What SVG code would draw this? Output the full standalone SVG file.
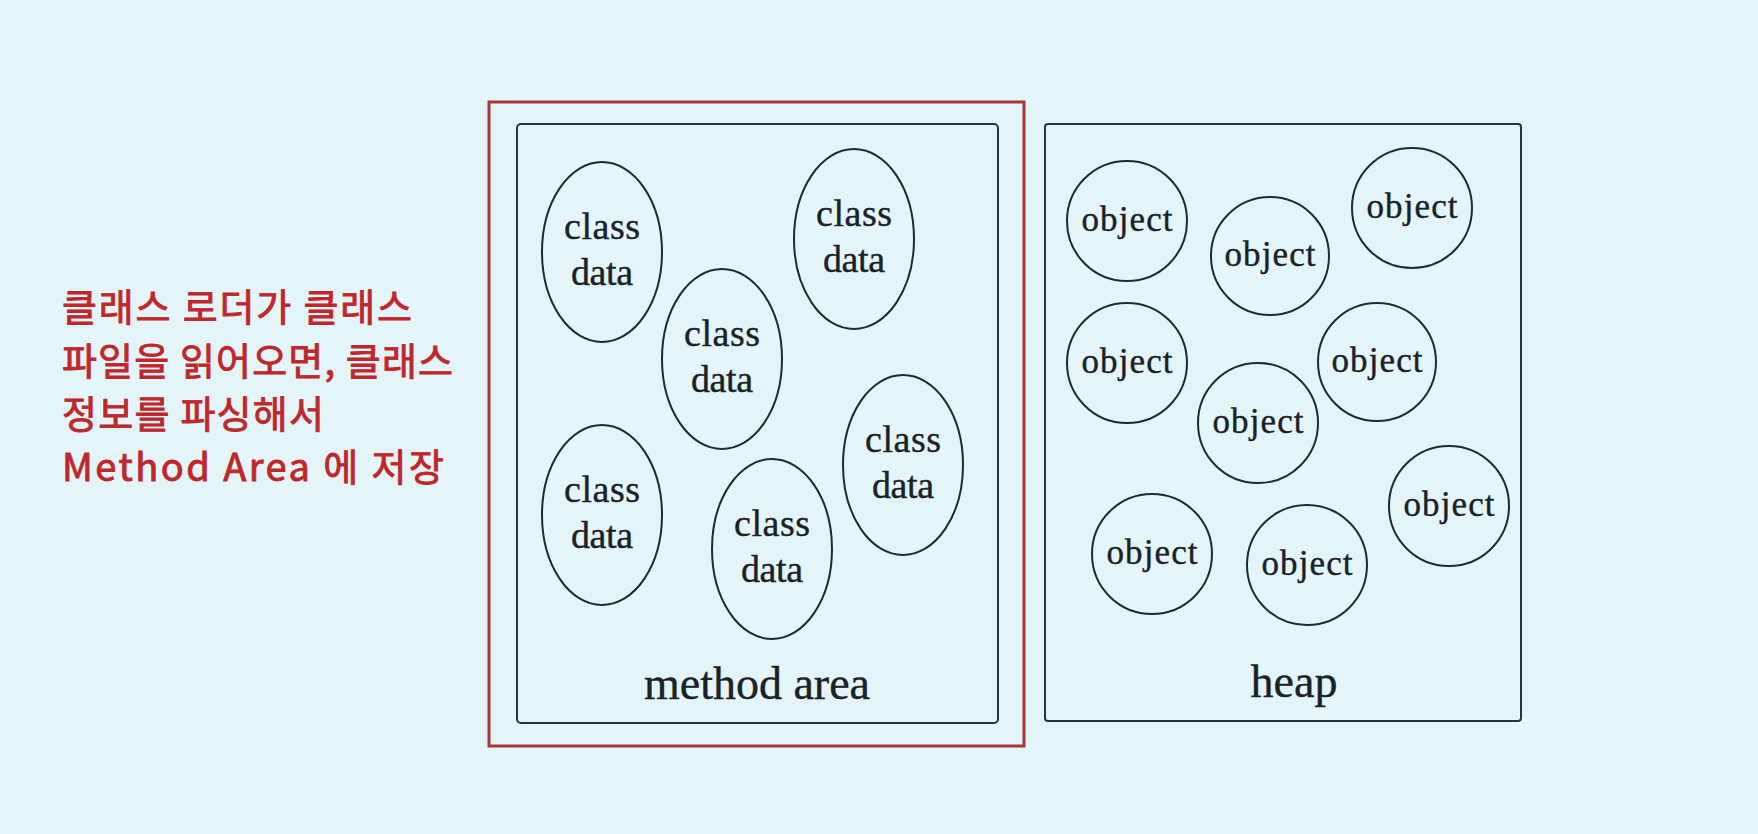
<svg xmlns="http://www.w3.org/2000/svg" width="1758" height="834" viewBox="0 0 1758 834">
<style>
.bg{fill:#e4f5fa}
.frame{fill:none;stroke:#a8343a;stroke-width:3}
.box{fill:none;stroke:#26343e;stroke-width:2}
.node{fill:none;stroke:#1f2b33;stroke-width:2}
.t{font-family:"Liberation Serif","Times New Roman",serif;fill:#1a2228;stroke:#1a2228;stroke-width:0.4;text-anchor:middle}
.cd{font-size:38px}
.ob{font-size:35px}
.lbl{font-size:46px}
.ko{font-family:"Noto Sans CJK KR","Noto Sans",sans-serif;font-size:38px;fill:#bf272b;stroke:#bf272b;stroke-width:0.9}
</style>
<rect class="bg" x="0" y="0" width="1758" height="834"/>

<g id="note">
<text class="ko" x="62" y="321" textLength="350" lengthAdjust="spacing">클래스 로더가 클래스</text>
<text class="ko" x="62" y="375" textLength="391" lengthAdjust="spacing">파일을 읽어오면, 클래스</text>
<text class="ko" x="62" y="428" textLength="262" lengthAdjust="spacing">정보를 파싱해서</text>
<text class="ko" x="62" y="481" textLength="382" lengthAdjust="spacing">Method Area 에 저장</text>
</g>

<g id="highlight">
<rect class="frame" x="489" y="102" width="535" height="644"/>
</g>

<g id="method-area">
<rect class="box" x="517" y="124" width="481" height="599" rx="4"/>
<text class="t lbl" x="757" y="699">method area</text>
</g>

<g id="heap">
<rect class="box" x="1045" y="124" width="476" height="597" rx="3"/>
<text class="t lbl" x="1294" y="697">heap</text>
</g>

<g id="class-data-1"><ellipse class="node" cx="602" cy="252" rx="60" ry="90"/><text class="t cd" x="602" y="239" textLength="76">class</text><text class="t cd" x="602" y="285" textLength="62">data</text></g>
<g id="class-data-2"><ellipse class="node" cx="854" cy="239" rx="60" ry="90"/><text class="t cd" x="854" y="226" textLength="76">class</text><text class="t cd" x="854" y="272" textLength="62">data</text></g>
<g id="class-data-3"><ellipse class="node" cx="722" cy="359" rx="60" ry="90"/><text class="t cd" x="722" y="346" textLength="76">class</text><text class="t cd" x="722" y="392" textLength="62">data</text></g>
<g id="class-data-4"><ellipse class="node" cx="903" cy="465" rx="60" ry="90"/><text class="t cd" x="903" y="452" textLength="76">class</text><text class="t cd" x="903" y="498" textLength="62">data</text></g>
<g id="class-data-5"><ellipse class="node" cx="602" cy="515" rx="60" ry="90"/><text class="t cd" x="602" y="502" textLength="76">class</text><text class="t cd" x="602" y="548" textLength="62">data</text></g>
<g id="class-data-6"><ellipse class="node" cx="772" cy="549" rx="60" ry="90"/><text class="t cd" x="772" y="536" textLength="76">class</text><text class="t cd" x="772" y="582" textLength="62">data</text></g>

<g id="object-1"><circle class="node" cx="1127" cy="221" r="60"/><text class="t ob" x="1127" y="231" textLength="91">object</text></g>
<g id="object-2"><circle class="node" cx="1270" cy="256" r="59"/><text class="t ob" x="1270" y="266" textLength="91">object</text></g>
<g id="object-3"><circle class="node" cx="1412" cy="208" r="60"/><text class="t ob" x="1412" y="218" textLength="91">object</text></g>
<g id="object-4"><circle class="node" cx="1127" cy="363" r="60"/><text class="t ob" x="1127" y="373" textLength="91">object</text></g>
<g id="object-5"><circle class="node" cx="1377" cy="362" r="59"/><text class="t ob" x="1377" y="372" textLength="91">object</text></g>
<g id="object-6"><circle class="node" cx="1258" cy="423" r="60"/><text class="t ob" x="1258" y="433" textLength="91">object</text></g>
<g id="object-7"><circle class="node" cx="1449" cy="506" r="60"/><text class="t ob" x="1449" y="516" textLength="91">object</text></g>
<g id="object-8"><circle class="node" cx="1152" cy="554" r="60"/><text class="t ob" x="1152" y="564" textLength="91">object</text></g>
<g id="object-9"><circle class="node" cx="1307" cy="565" r="60"/><text class="t ob" x="1307" y="575" textLength="91">object</text></g>

<g id="connectors"></g>
</svg>
